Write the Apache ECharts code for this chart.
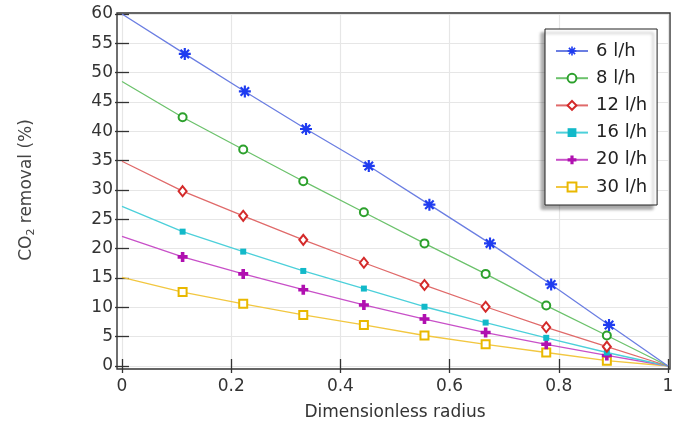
<!DOCTYPE html>
<html>
<head>
<meta charset="utf-8">
<script src="https://cdn.jsdelivr.net/npm/echarts@6/dist/echarts.min.js"></script>
<style>
html, body { margin: 0; padding: 0; background: #fff; }
#chart { width: 682px; height: 421px; }
</style>
</head>
<body>
<div id="chart"></div>
<script>
// legend names
var seriesNames = ["6 l/h", "8 l/h", "12 l/h", "16 l/h", "20 l/h", "30 l/h"];

// marker positions along the radius (the 6 l/h markers sit slightly further right)
var xMarks6 = [0.115, 0.225, 0.337, 0.452, 0.563, 0.674, 0.786, 0.892];
var xMarks = [0.111, 0.222, 0.332, 0.443, 0.554, 0.666, 0.777, 0.888];

// value at r = 0, then the marked values, the curves all end at 0 for r = 1
var startValues = [60, 48.5, 34.9, 27.2, 22.1, 15.1];
var flow6 = [53.2, 46.8, 40.4, 34.1, 27.5, 20.9, 13.9, 7.0];
var flow8 = [42.4, 36.9, 31.5, 26.2, 20.9, 15.7, 10.3, 5.2];
var flow12 = [29.8, 25.6, 21.5, 17.6, 13.8, 10.1, 6.6, 3.3];
var flow16 = [22.9, 19.5, 16.2, 13.2, 10.1, 7.4, 4.8, 2.3];
var flow20 = [18.6, 15.7, 13.0, 10.4, 8.0, 5.7, 3.7, 1.8];
var flow30 = [12.6, 10.6, 8.7, 7.0, 5.2, 3.7, 2.3, 0.9];

var yTicks = [0, 60, 5];
var xTicks = [0, 1, 0.2];

var markerColors = ["#1f3cf0", "#2ca02c", "#d42a2a", "#12b9c9", "#b010b0", "#e9b800"];
var lineColors = ["#6b7ee2", "#6cc26c", "#e06a6a", "#4cd0da", "#c850c8", "#f2c740"];

// asterisk and plus drawn as filled polygons
var asterisk = "path://M0,0.82L2,0.82L2,1.18L0,1.18Z" +
    "M1.18,0L1.18,2L0.82,2L0.82,0Z" +
    "M0.166,0.42L0.42,0.166L1.834,1.58L1.58,1.834Z" +
    "M1.58,0.166L1.834,0.42L0.42,1.834L0.166,1.58Z";
var plus = "path://M0.64,0L1.36,0L1.36,0.64L2,0.64L2,1.36L1.36,1.36L1.36,2L0.64,2L0.64,1.36L0,1.36L0,0.64L0.64,0.64Z";

var symbols = [asterisk, "emptyCircle", "emptyDiamond", "rect", plus, "emptyRect"];
var symbolSizes = [12, 8, [8, 10], 6, 10, 8];
var allValues = [flow6, flow8, flow12, flow16, flow20, flow30];

function buildData(i) {
    var xs = i === 0 ? xMarks6 : xMarks;
    var data = [{ value: [0, startValues[i]], symbol: "none" }];
    allValues[i].forEach(function (v, k) {
        data.push([xs[k], v]);
    });
    data.push({ value: [1, 0], symbol: "none" });
    return data;
}

var series = seriesNames.map(function (name, i) {
    return {
        name: name,
        type: "line",
        xAxisIndex: 0,
        yAxisIndex: 0,
        data: buildData(i),
        smooth: false,
        showAllSymbol: true,
        symbol: symbols[i],
        symbolSize: symbolSizes[i],
        lineStyle: { color: lineColors[i], width: 1.3 },
        itemStyle: { color: markerColors[i], borderWidth: 1.4 },
        emphasis: { disabled: true },
        z: 10 - i
    };
});

var fontFam = "DejaVu Sans";
var myChart = echarts.init(document.getElementById("chart"), null, { renderer: "canvas" });

var option = {
    animation: false,
    backgroundColor: "#fff",
    textStyle: { fontFamily: fontFam },
    grid: [
        // data area
        { left: 122, right: 14, top: 14, bottom: 55, containLabel: false, outerBoundsMode: "none" },
        // outer frame
        { left: 117, right: 12, top: 13, bottom: 52, outerBoundsMode: "none", show: true, borderColor: "#333", borderWidth: 1.4, backgroundColor: "transparent", z: 0 }
    ],
    legend: {
        data: seriesNames,
        orient: "vertical",
        left: 545,
        top: 29,
        itemWidth: 32,
        itemHeight: 11,
        itemGap: 9.2,
        padding: [13, 10, 9, 10],
        backgroundColor: "#fff",
        borderColor: "#222",
        borderWidth: 1,
        shadowColor: "rgba(0,0,0,0.35)",
        shadowBlur: 3,
        shadowOffsetX: -4,
        shadowOffsetY: 4,
        textStyle: { fontFamily: fontFam, fontSize: 18, lineHeight: 18, color: "#222", padding: [0, 0, 0, 3] },
        selectedMode: false
    },
    xAxis: [
        {
            type: "value", gridIndex: 0,
            min: xTicks[0], max: xTicks[1], interval: xTicks[2],
            name: "Dimensionless radius",
            nameLocation: "middle",
            nameGap: 38,
            nameTextStyle: { fontSize: 17, color: "#333", fontFamily: fontFam },
            axisLine: { show: false },
            axisTick: { show: true, inside: true, length: 7, lineStyle: { color: "#333", width: 1.3 } },
            axisLabel: { fontSize: 17, color: "#333", margin: 12, fontFamily: fontFam },
            splitLine: { show: true, lineStyle: { color: "#e6e6e6", width: 1.2 } }
        },
        {
            type: "value", gridIndex: 0, position: "top",
            min: xTicks[0], max: xTicks[1], interval: xTicks[2],
            axisLine: { show: false },
            axisTick: { show: true, inside: true, length: 7, lineStyle: { color: "#333", width: 1.3 } },
            axisLabel: { show: false },
            splitLine: { show: false }
        },
        { type: "value", gridIndex: 1, show: false, min: 0, max: 1 }
    ],
    yAxis: [
        {
            type: "value", gridIndex: 0,
            min: yTicks[0], max: yTicks[1], interval: yTicks[2],
            name: "{a|CO}{b|2}{a| removal (%)}",
            nameLocation: "middle",
            nameGap: 85,
            nameTextStyle: {
                rich: {
                    a: { fontSize: 17, color: "#444", fontFamily: fontFam },
                    b: { fontSize: 11, color: "#444", fontFamily: fontFam, padding: [9, 0, 0, 0] }
                }
            },
            axisLine: { show: false },
            axisTick: { show: true, inside: true, length: 7, lineStyle: { color: "#333", width: 1.3 } },
            axisLabel: { fontSize: 17, color: "#333", margin: 9, fontFamily: fontFam },
            splitLine: { show: true, lineStyle: { color: "#e6e6e6", width: 1.2 } }
        },
        {
            type: "value", gridIndex: 0, position: "right",
            min: yTicks[0], max: yTicks[1], interval: yTicks[2],
            axisLine: { show: false },
            axisTick: { show: true, inside: true, length: 7, lineStyle: { color: "#333", width: 1.3 } },
            axisLabel: { show: false },
            splitLine: { show: false }
        },
        { type: "value", gridIndex: 1, show: false, min: 0, max: 1 }
    ],
    series: series
};

myChart.setOption(option);
</script>
</body>
</html>
